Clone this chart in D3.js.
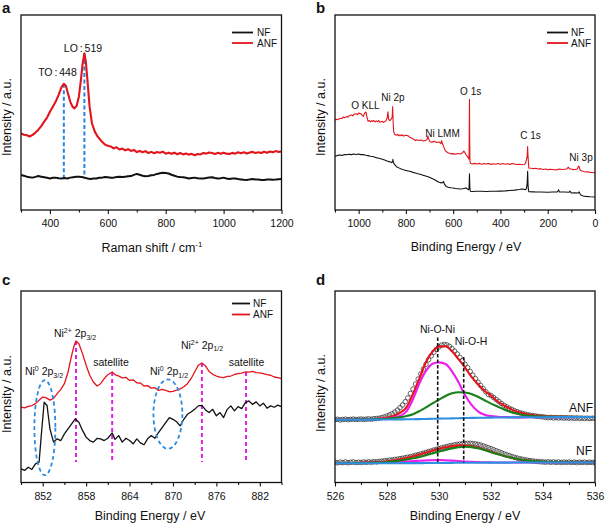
<!DOCTYPE html>
<html><head><meta charset="utf-8">
<script src="https://cdn.jsdelivr.net/npm/d3@7"></script>
<style>
body{margin:0;background:#fff}
svg{display:block}
text{font-family:Arial,"Liberation Sans",sans-serif;fill:#111}
</style></head><body>
<svg id="c" width="606" height="525"></svg>
<script>
// ---------- Panel a: Raman ----------
const ramanANF = [[300,39.3],[310,38.6],[320,38.3],[330,37.7],[340,38.5],[350,39.7],[360,41.2],[370,43.0],[380,45.3],[390,47.4],[400,50.4],[410,53.0],[420,55.6],[430,59.0],[440,63.0],[448,64.7],[455,63.7],[462,59.9],[470,55.6],[478,53.0],[485,52.1],[492,53.4],[500,58.1],[507,66.7],[513,75.2],[519,80.3],[524,76.1],[530,65.8],[537,53.0],[545,44.5],[555,40.2],[565,37.6],[580,35.0],[590,33.6],[600,32.9],[610,32.6],[620,31.6],[630,32.2],[640,31.0],[650,31.5],[660,30.6],[670,31.2],[680,30.3],[690,30.8],[700,29.7],[710,30.3],[720,29.6],[730,30.2],[740,29.2],[750,29.8],[760,29.1],[770,29.7],[780,29.4],[790,29.9],[800,28.9],[810,29.4],[820,28.8],[830,29.4],[840,28.6],[850,29.2],[860,28.5],[870,29.0],[880,28.4],[890,28.8],[900,28.1],[910,28.7],[920,28.5],[930,29.2],[940,28.9],[950,29.5],[960,29.2],[970,28.7],[980,29.3],[990,28.8],[1000,29.4],[1010,28.9],[1020,28.7],[1030,29.3],[1040,28.9],[1050,29.6],[1060,29.1],[1070,29.6],[1080,29.0],[1090,29.5],[1100,29.8],[1110,29.2],[1120,29.6],[1130,29.2],[1140,29.9],[1150,29.4],[1160,30.0],[1170,29.6],[1180,30.2],[1190,29.8],[1200,30.0]];
const ramanNF = [[300,18.0],[310,17.6],[320,17.1],[330,16.8],[340,16.6],[350,17.0],[360,17.4],[370,17.1],[380,16.8],[390,16.5],[400,16.2],[410,16.5],[420,16.6],[430,16.3],[440,16.1],[450,16.4],[460,16.2],[470,16.6],[480,16.8],[490,17.0],[500,17.1],[510,16.9],[520,16.6],[530,16.2],[540,15.9],[550,16.1],[560,16.2],[570,16.5],[580,16.6],[590,16.9],[600,16.8],[610,16.5],[620,16.6],[630,16.9],[640,17.1],[650,16.9],[660,17.1],[670,17.3],[680,17.4],[690,18.0],[700,18.5],[710,18.1],[720,17.6],[730,17.3],[740,17.4],[750,17.8],[760,18.0],[770,18.5],[780,18.8],[790,19.1],[800,19.0],[810,18.7],[820,18.1],[830,17.6],[840,17.1],[850,16.9],[860,16.8],[870,16.5],[880,16.2],[890,16.4],[900,16.6],[910,16.3],[920,16.1],[930,16.2],[940,16.4],[950,16.7],[960,16.8],[970,16.4],[980,16.1],[990,16.3],[1000,16.6],[1010,16.2],[1020,15.9],[1030,16.1],[1040,16.2],[1050,15.9],[1060,15.7],[1070,15.5],[1080,15.4],[1090,15.7],[1100,15.9],[1110,15.7],[1120,15.6],[1130,15.4],[1140,15.4],[1150,15.6],[1160,15.7],[1170,15.5],[1180,15.6],[1190,15.8],[1200,15.9]];
const ramanPeakPos = [448, 519];
const ramanPeakTop = [64.7, 80.3];
const ramanPeakLabels = ["TO : 448", "LO : 519"];
const ramanLabelAt = [[426, 68.5], [514, 81]];
const ramanDropTo = 15.9;

// ---------- Panel b: XPS survey ----------
const surveyANF = [[1100,46.0],[1095,46.6],[1090,46.3],[1080,46.9],[1070,47.0],[1065,47.7],[1060,47.3],[1050,48.0],[1045,47.6],[1040,48.3],[1030,48.7],[1025,48.3],[1020,49.1],[1010,49.4],[1005,48.9],[1000,49.7],[990,49.3],[985,48.5],[980,48.0],[975,49.6],[969,50.2],[965,47.8],[960,45.5],[955,45.9],[950,45.2],[945,45.8],[940,45.4],[935,45.9],[930,45.2],[925,45.7],[920,45.3],[915,45.9],[910,45.0],[900,45.5],[895,44.9],[890,45.3],[884,45.8],[879,47.5],[876,50.4],[873,46.5],[868,45.8],[863,46.5],[858,47.5],[856,53.0],[854,45.0],[852,40.5],[848,38.8],[840,38.3],[835,38.8],[830,38.0],[825,38.5],[820,38.1],[815,38.6],[810,37.9],[800,38.3],[790,38.0],[785,37.4],[775,36.8],[765,36.2],[760,35.6],[755,36.0],[745,35.6],[735,35.9],[725,35.4],[715,35.8],[710,36.4],[707,38.0],[703,36.2],[698,35.0],[690,34.8],[680,35.2],[670,34.6],[660,34.9],[652,34.0],[649,35.6],[645,33.8],[640,32.5],[635,30.8],[630,30.0],[620,29.2],[610,28.8],[600,28.9],[590,28.6],[580,29.0],[570,28.7],[560,29.4],[555,30.2],[550,29.4],[545,28.2],[540,27.5],[535,26.5],[533,26.0],[532,40.0],[531,56.8],[530,35.0],[529,25.0],[527,24.0],[520,23.6],[510,23.9],[500,23.6],[490,23.9],[480,23.5],[470,23.8],[460,23.6],[450,23.9],[440,23.4],[430,23.7],[420,23.5],[410,23.8],[400,23.5],[390,23.8],[380,23.5],[370,23.7],[360,23.4],[350,23.8],[340,23.6],[330,23.3],[320,23.5],[310,23.2],[300,23.3],[294,24.0],[290,25.8],[287,27.4],[285,32.5],[284,29.0],[282,25.0],[280,21.5],[270,21.4],[260,21.2],[250,21.4],[240,21.0],[230,21.2],[220,20.8],[210,21.0],[200,20.7],[190,20.9],[180,20.8],[170,20.6],[160,20.7],[150,21.0],[140,20.8],[130,20.9],[120,21.0],[113,22.0],[108,21.0],[100,21.0],[92,20.7],[85,20.8],[75,21.0],[70,22.4],[67,22.2],[63,20.4],[55,20.0],[47,19.7],[40,19.5],[30,19.6],[20,19.3],[10,19.2],[0,19.0]];
const surveyNF = [[1100,27.4],[1090,28.0],[1080,28.2],[1070,28.0],[1060,28.5],[1050,28.3],[1040,28.6],[1030,28.4],[1020,28.7],[1010,28.5],[1000,28.7],[990,28.4],[980,28.5],[970,28.1],[960,27.9],[950,27.6],[940,27.4],[930,27.0],[920,26.7],[910,26.4],[900,26.0],[890,25.6],[880,25.1],[870,24.8],[860,24.3],[856,25.0],[855,26.0],[853,24.5],[850,23.6],[840,22.2],[830,21.6],[820,21.0],[810,20.6],[800,20.3],[790,20.0],[780,19.7],[770,19.3],[760,19.0],[750,18.6],[740,18.3],[730,17.9],[720,17.6],[710,17.2],[700,16.8],[690,16.2],[680,15.6],[670,14.9],[660,14.2],[650,13.9],[645,14.0],[641,14.7],[637,13.3],[630,12.1],[620,11.7],[610,11.4],[600,11.3],[590,11.0],[580,10.9],[570,10.8],[560,10.9],[550,11.2],[545,11.3],[540,10.8],[535,10.4],[533,11.0],[532,14.7],[531,18.6],[530,14.0],[529,10.8],[527,9.6],[520,9.5],[500,9.6],[480,9.6],[460,9.5],[440,9.6],[420,9.6],[400,9.7],[380,9.8],[360,10.0],[340,10.2],[320,10.5],[310,10.8],[300,10.6],[295,10.4],[290,11.0],[287,13.5],[285,19.8],[284,16.0],[283,12.1],[281,9.8],[280,9.4],[260,9.3],[250,9.2],[230,9.2],[200,9.1],[180,9.2],[160,9.2],[156,9.9],[154,10.4],[151,9.3],[130,9.2],[110,9.1],[106,9.7],[103,9.2],[100,8.7],[85,8.8],[70,8.7],[67,9.3],[64,8.5],[60,7.7],[50,7.2],[40,7.0],[20,6.8],[0,6.7]];
const surveyLabels = ["O KLL","Ni 2p","O 1s","Ni LMM","C 1s","Ni 3p"];
const surveyLabelAt = [[971,51.6],[855,56.1],[526,59.0],[645,37.3],[273,36.3],[59,25.3]];

// ---------- Panel c: Ni 2p ----------
const ni2pANF = [[849,39.4],[849.5,39.0],[850,39.8],[850.5,40.2],[851,41.2],[851.5,43.0],[852,44.7],[852.5,44.2],[853,43.0],[853.5,43.9],[854,46.4],[854.5,48.6],[855,51.6],[855.5,57.7],[856,66.4],[856.3,71.0],[856.6,73.9],[857,72.5],[857.5,67.3],[858,61.2],[858.5,56.0],[859,52.5],[859.5,50.4],[860,51.6],[860.5,54.2],[861,56.3],[861.6,57.7],[862,56.3],[862.5,55.6],[863,54.6],[863.5,54.9],[864,53.3],[864.5,53.6],[865,52.1],[865.5,51.9],[866,50.4],[866.5,50.6],[867,49.3],[867.5,49.5],[868,48.1],[868.5,48.6],[869,48.1],[869.5,47.4],[870,47.6],[870.5,48.2],[871,48.9],[871.5,50.0],[872,51.6],[872.5,54.2],[873,57.7],[873.5,61.2],[874,62.4],[874.5,60.8],[875,58.0],[875.5,56.5],[876,55.6],[876.5,55.0],[877,54.8],[877.5,55.4],[878,55.6],[878.5,56.4],[879,56.8],[879.5,57.1],[880,57.7],[880.5,57.6],[881,58.0],[881.5,57.4],[882,57.2],[882.5,56.9],[883,56.3],[883.5,56.0],[884,55.1],[884.5,54.8],[885,54.2]];
const ni2pNF = [[849,7.2],[849.5,6.3],[850,8.0],[850.5,6.8],[851,9.7],[851.5,10.6],[851.8,24.5],[852.2,41.9],[852.6,40.2],[853,28.0],[853.5,21.1],[854,22.8],[854.5,21.9],[855,25.4],[855.5,28.0],[856,30.6],[856.5,33.2],[857,31.5],[857.5,27.2],[858,23.7],[858.5,21.9],[859,21.1],[859.5,23.0],[860,22.8],[860.5,21.9],[861,23.1],[861.6,25.9],[862,22.5],[862.5,24.5],[863,21.1],[863.5,23.1],[864,21.9],[864.5,20.2],[865,22.8],[865.5,20.7],[866,19.7],[866.5,22.8],[867,24.5],[867.5,23.1],[868,26.1],[868.5,28.7],[869,31.3],[869.5,33.9],[870,33.0],[870.5,31.7],[871,29.6],[871.5,33.0],[872,35.6],[872.5,36.8],[873,38.2],[873.5,40.0],[874,40.3],[874.5,37.9],[875,36.5],[875.5,38.2],[876,34.8],[876.5,36.5],[877,33.9],[877.5,38.2],[878,40.0],[878.5,37.4],[879,39.6],[879.5,38.6],[880,41.7],[880.5,42.6],[881,40.8],[881.5,42.1],[882,40.0],[882.5,41.4],[883,38.8],[883.5,40.0],[884,39.3],[884.5,40.4],[885,39.6]];
const ni2pMarkPos = [856.6, 861.6, 874.0, 880.1];
const ni2pMarkTop = [73.9, 57.7, 62.4, 57.7];
const ni2pMarkBottom = 10.7;
const ellCx = [852.3, 869.3];
const ellCy = [28.6, 35.7];
const ellRx = [1.45, 2.0];
const ellRy = [24.8, 18.1];

// ---------- Panel d: O 1s ----------
const o1sFitX = [526,527,527.5,528,528.25,528.5,528.75,529,529.25,529.5,529.75,530,530.25,530.5,530.75,531,531.25,531.5,531.75,532,532.25,532.5,532.75,533,533.5,534,535,536];
const anfBase = [62.7,62.8,62.9,63.0,63.05,63.1,63.2,63.3,63.4,63.55,63.7,63.85,64.0,64.15,64.3,64.45,64.6,64.7,64.8,64.9,65.0,65.05,65.1,65.15,65.2,65.3,65.4,65.5];
const anfNiONi = [62.7,62.8,63.2,64.0,65.05,66.6,71.2,83.3,99.4,111.55,118.7,120.15,118.5,111.15,100.3,87.45,77.6,71.2,67.8,66.4,65.8,65.45,65.3,65.15,65.2,65.3,65.4,65.5];
const anfNiOH = [62.7,63.0,63.3,63.8,64.35,65.1,66.4,68.3,71.4,75.05,79.2,82.85,86.5,89.15,90.3,90.05,88.6,85.7,82.3,78.9,76.0,73.05,70.6,68.65,66.7,66.0,65.6,65.5];
const anfEnvelope = [62.7,63.0,63.5,65.0,66.55,69.7,75.2,88.3,104.4,120.55,130.7,135.85,136.3,131.15,123.3,114.95,105.6,98.2,91.8,86.9,81.0,77.05,73.6,70.75,67.7,66.5,65.8,65.5];
const nfBase = [19.2,19.2,19.25,19.3,19.3,19.35,19.35,19.4,19.4,19.45,19.5,19.55,19.6,19.65,19.7,19.75,19.8,19.8,19.85,19.85,19.9,19.9,19.9,19.95,19.95,20.0,20.0,20.0];
const nfNiONi = [19.2,19.5,19.75,20.1,20.3,20.65,20.95,21.4,21.7,22.05,22.3,22.35,22.2,21.85,21.5,21.05,20.7,20.4,20.25,20.1,20.05,20.0,19.95,19.95,19.95,20.0,20.0,20.0];
const nfNiOH = [19.2,19.5,19.85,20.5,21.1,21.95,22.95,24.2,25.6,27.25,29.1,30.85,32.6,34.15,35.3,35.75,35.4,34.2,32.45,30.35,28.4,26.5,24.9,23.55,21.75,20.8,20.2,20.0];
const nfEnvelope = [19.2,19.8,20.35,21.3,22.1,23.25,24.55,26.2,27.9,29.85,31.9,33.65,35.2,36.35,37.1,37.05,36.3,34.8,32.85,30.6,28.55,26.6,24.95,23.55,21.75,20.8,20.2,20.0];
const o1sPtX = d3.range(101).map(i => +(526 + i*0.1).toFixed(1));
const anfPts = [62.8,63.2,62.6,63.0,63.3,62.9,63.1,63.4,63.0,63.2,63.5,63.1,63.4,63.6,63.3,63.8,64.0,64.3,64.9,65.6,66.5,67.6,68.8,70.5,72.4,74.8,77.5,80.8,84.6,89.0,93.5,98.5,103.5,108.6,113.5,118.2,122.8,126.6,130.2,133.2,135.6,137.4,138.0,137.6,136.2,134.0,131.4,128.5,125.2,121.8,118.3,114.8,111.0,107.4,103.8,100.3,97.0,93.8,90.8,88.0,87.0,85.0,83.0,81.0,79.0,77.2,75.6,74.2,73.0,71.8,70.8,69.9,69.1,68.4,67.8,67.3,66.9,66.5,66.2,65.9,65.6,65.2,64.8,65.1,64.6,64.9,64.5,64.8,64.4,64.7,64.3,64.6,64.2,64.5,64.2,64.4,64.1,64.4,64.1,64.3,64.1];
const nfPts = [20.3,19.7,20.4,19.9,20.5,19.8,20.2,20.6,19.9,20.3,20.0,20.5,20.1,20.6,20.3,20.8,20.6,21.1,21.3,21.8,21.9,22.4,22.6,23.1,23.3,23.9,24.2,24.8,25.2,25.9,26.4,27.2,27.8,28.6,29.3,30.1,30.9,31.6,32.4,33.1,33.9,34.6,35.3,35.9,36.6,37.1,37.6,38.1,38.4,38.8,39.0,39.2,39.2,39.0,38.6,38.1,37.4,36.6,35.7,34.8,33.8,32.8,31.8,30.7,29.7,28.7,27.8,26.9,26.0,25.2,24.5,23.8,23.3,22.7,22.3,21.9,21.6,21.2,21.0,20.7,20.6,20.3,20.7,20.2,20.6,20.1,20.5,20.0,20.4,20.1,20.5,20.0,20.4,19.9,20.3,20.0,20.4,19.9,20.3,20.0,20.2];
const o1sMarkPos = [529.95, 530.95];
const o1sMarkTop = [145, 125.5];
const o1sMarkBottom = 20;
const o1sMarkLabels = ["Ni-O-Ni", "Ni-O-H"];

const legendNames = ["NF", "ANF"];
// ---------------------------------------------------------------
const FONT = 'Arial,"Liberation Sans",sans-serif';
const RED = "#e3141b", BLK = "#111";
const svg = d3.select("#c");
let clipId = 0;

function makePanel(o) {
  const g = svg.append("g");
  const x = d3.scaleLinear().domain(o.xd).range([o.l, o.r]);
  const y = d3.scaleLinear().domain(o.yd).range([o.b, o.t]);
  const axG = g.append("g");
  const cid = "clip" + (clipId++);
  g.append("clipPath").attr("id", cid).append("rect")
    .attr("x", o.l).attr("y", o.t).attr("width", o.r - o.l).attr("height", o.b - o.t);
  const plot = g.append("g").attr("clip-path", `url(#${cid})`);
  const over = g.append("g");
  g.append("rect").attr("x", o.l).attr("y", o.t)
    .attr("width", o.r - o.l).attr("height", o.b - o.t)
    .attr("fill", "none").attr("stroke", BLK).attr("stroke-width", 1.3);
  const ax = axG.append("g").attr("transform", `translate(0,${o.b})`)
    .call(d3.axisBottom(x).tickValues(o.major).tickSize(4).tickSizeOuter(0).tickPadding(6).tickFormat(d3.format("d")));
  ax.select(".domain").remove();
  ax.selectAll("text").attr("font-size", 10.5).attr("font-family", FONT).attr("fill", BLK);
  ax.selectAll("line").attr("stroke", BLK).attr("stroke-width", 1.1);
  const mi = axG.append("g").attr("transform", `translate(0,${o.b})`)
    .call(d3.axisBottom(x).tickValues(o.minor).tickSize(2.5).tickSizeOuter(0).tickFormat(""));
  mi.select(".domain").remove();
  mi.selectAll("line").attr("stroke", BLK).attr("stroke-width", 1.1);
  const xt = g.append("text").attr("x", o.xtX).attr("y", o.xtY).attr("text-anchor", "middle")
    .attr("font-size", 12.5).attr("font-family", FONT).text(o.xtitle);
  if (o.xsup) xt.append("tspan").attr("dy", -5).attr("font-size", 8).text(o.xsup);
  g.append("text").attr("transform", `translate(${o.ytX},${o.ytY}) rotate(-90)`)
    .attr("text-anchor", "middle").attr("font-size", 12.5).attr("font-family", FONT).text("Intensity / a.u.");
  g.append("text").attr("x", o.letX).attr("y", o.letY).attr("font-size", 15).attr("font-weight", "bold")
    .attr("font-family", FONT).text(o.letter);
  return { g, x, y, plot, over };
}

function legend(p, lx1, lx2, ys, tx) {
  const cols = [BLK, RED];
  legendNames.forEach((n, i) => {
    p.over.append("line").attr("x1", lx1).attr("x2", lx2).attr("y1", ys[i]).attr("y2", ys[i])
      .attr("stroke", cols[i]).attr("stroke-width", 1.8);
    p.over.append("text").attr("x", tx).attr("y", ys[i]).attr("dy", "0.36em").attr("font-size", 10)
      .attr("font-family", FONT).text(n);
  });
}

function pathLine(p, data, color, w, curve) {
  const ln = d3.line().x(d => p.x(d[0])).y(d => p.y(d[1])).curve(curve || d3.curveLinear);
  p.plot.append("path").datum(data).attr("d", ln).attr("fill", "none")
    .attr("stroke", color).attr("stroke-width", w).attr("stroke-linejoin", "round");
}

// ---------- a ----------
const pa = makePanel({ l: 21, r: 281.5, t: 15, b: 210, xd: [300, 1200], yd: [0, 100],
  major: [400, 600, 800, 1000, 1200], minor: [300, 500, 700, 900, 1100],
  xtitle: "Raman shift / cm", xsup: "-1", xtX: 152, xtY: 252, ytX: 11, ytY: 117, letX: 2, letY: 13, letter: "a" });
ramanPeakPos.forEach((v, i) => {
  pa.plot.append("line").attr("x1", pa.x(v)).attr("x2", pa.x(v)).attr("y1", pa.y(ramanPeakTop[i])).attr("y2", pa.y(ramanDropTo))
    .attr("stroke", "#1f86e8").attr("stroke-width", 2).attr("stroke-dasharray", "4,2.5");
});
pathLine(pa, ramanNF, BLK, 2);
pathLine(pa, ramanANF, RED, 2.1);
ramanPeakLabels.forEach((t, i) => {
  pa.over.append("text").attr("x", pa.x(ramanLabelAt[i][0])).attr("y", pa.y(ramanLabelAt[i][1]))
    .attr("text-anchor", "middle").attr("font-size", 10.5).attr("word-spacing", "-1px").attr("font-family", FONT).text(t);
});
legend(pa, 232, 253, [32.5, 43], 257);

// ---------- b ----------
const pb = makePanel({ l: 335, r: 595, t: 15, b: 210, xd: [1100, 0], yd: [0, 100],
  major: [1000, 800, 600, 400, 200, 0], minor: [1100, 900, 700, 500, 300, 100],
  xtitle: "Binding Energy / eV", xtX: 466, xtY: 251, ytX: 325, ytY: 117, letX: 316, letY: 13, letter: "b" });
pathLine(pb, surveyNF, BLK, 1.1);
pathLine(pb, surveyANF, RED, 1.1);
surveyLabels.forEach((t, i) => {
  pb.over.append("text").attr("x", pb.x(surveyLabelAt[i][0])).attr("y", pb.y(surveyLabelAt[i][1]))
    .attr("text-anchor", "middle").attr("font-size", 10).attr("font-family", FONT).text(t);
});
legend(pb, 547, 568, [32.5, 43], 571);

// ---------- c ----------
const pc = makePanel({ l: 21, r: 281.5, t: 291, b: 482.5, xd: [849, 885], yd: [0, 100],
  major: [852, 858, 864, 870, 876, 882], minor: [849, 855, 861, 867, 873, 879, 885],
  xtitle: "Binding Energy / eV", xtX: 150, xtY: 520, ytX: 11, ytY: 394, letX: 2, letY: 285, letter: "c" });
ni2pMarkPos.forEach((v, i) => {
  pc.plot.append("line").attr("x1", pc.x(v)).attr("x2", pc.x(v)).attr("y1", pc.y(ni2pMarkTop[i])).attr("y2", pc.y(ni2pMarkBottom))
    .attr("stroke", "#e41de4").attr("stroke-width", 2).attr("stroke-dasharray", "4,3");
});
pathLine(pc, ni2pNF, BLK, 1.3);
pathLine(pc, ni2pANF, RED, 1.3);
ellCx.forEach((cx, i) => {
  pc.plot.append("ellipse").attr("cx", pc.x(cx)).attr("cy", pc.y(ellCy[i]))
    .attr("rx", pc.x(cx + ellRx[i]) - pc.x(cx)).attr("ry", pc.y(ellCy[i] - ellRy[i]) - pc.y(ellCy[i]))
    .attr("fill", "none").attr("stroke", "#2b8be0").attr("stroke-width", 1.8).attr("stroke-dasharray", "4,3");
});
function niLabel(p, cx, by, sup, sub) {
  const t = p.over.append("text").attr("x", cx).attr("y", by).attr("text-anchor", "middle")
    .attr("font-size", 10.5).attr("font-family", FONT);
  t.append("tspan").text("Ni");
  t.append("tspan").attr("dy", -4).attr("font-size", 7).text(sup);
  t.append("tspan").attr("dy", 4).text("\u00a02p");
  t.append("tspan").attr("dy", 2.5).attr("font-size", 7).text(sub);
}
niLabel(pc, 44, 375, "0", "3/2");
niLabel(pc, 75, 337, "2+", "3/2");
niLabel(pc, 169, 375, "0", "1/2");
niLabel(pc, 202, 348.5, "2+", "1/2");
[[111, 365.5], [246.5, 366]].forEach(d => {
  pc.over.append("text").attr("x", d[0]).attr("y", d[1]).attr("text-anchor", "middle")
    .attr("font-size", 10.5).attr("font-family", FONT).text("satellite");
});
legend(pc, 232, 250, [303.5, 314.5], 253);

// ---------- d ----------
const pd = makePanel({ l: 335, r: 595, t: 291, b: 482.5, xd: [526, 536], yd: [0, 191.5],
  major: [526, 528, 530, 532, 534, 536], minor: [527, 529, 531, 533, 535],
  xtitle: "Binding Energy / eV", xtX: 465, xtY: 520, ytX: 325, ytY: 393, letX: 316, letY: 285, letter: "d" });
[anfPts, nfPts].forEach(pts => {
  pd.plot.append("g").selectAll("circle").data(pts).join("circle")
    .attr("cx", (d, i) => pd.x(o1sPtX[i])).attr("cy", d => pd.y(d)).attr("r", 2.3)
    .attr("fill", "none").attr("stroke", "#2a2a2a").attr("stroke-width", 0.7);
});
const fitSets = [
  [anfEnvelope, "#e8141c"], [anfNiONi, "#ee1cee"], [anfNiOH, "#17801a"], [anfBase, "#2f8fe0"],
  [nfEnvelope, "#e8141c"], [nfNiONi, "#ee1cee"], [nfNiOH, "#17801a"], [nfBase, "#2f8fe0"]
];
fitSets.forEach(([vals, col]) => {
  pathLine(pd, vals.map((v, i) => [o1sFitX[i], v]), col, 2.1, d3.curveMonotoneX);
});
o1sMarkPos.forEach((v, i) => {
  pd.plot.append("line").attr("x1", pd.x(v)).attr("x2", pd.x(v)).attr("y1", pd.y(o1sMarkTop[i])).attr("y2", pd.y(o1sMarkBottom))
    .attr("stroke", BLK).attr("stroke-width", 1.6).attr("stroke-dasharray", "3.5,2");
});
pd.over.append("text").attr("x", 437.5).attr("y", 332.5).attr("text-anchor", "middle").attr("font-size", 10.5)
  .attr("font-family", FONT).text(o1sMarkLabels[0]);
pd.over.append("text").attr("x", 471).attr("y", 344.5).attr("text-anchor", "middle").attr("font-size", 10.5)
  .attr("font-family", FONT).text(o1sMarkLabels[1]);
pd.over.append("text").attr("x", 593).attr("y", 411.5).attr("text-anchor", "end").attr("font-size", 12)
  .attr("font-family", FONT).text("ANF");
pd.over.append("text").attr("x", 592).attr("y", 455).attr("text-anchor", "end").attr("font-size", 12)
  .attr("font-family", FONT).text("NF");
</script>
</body></html>
